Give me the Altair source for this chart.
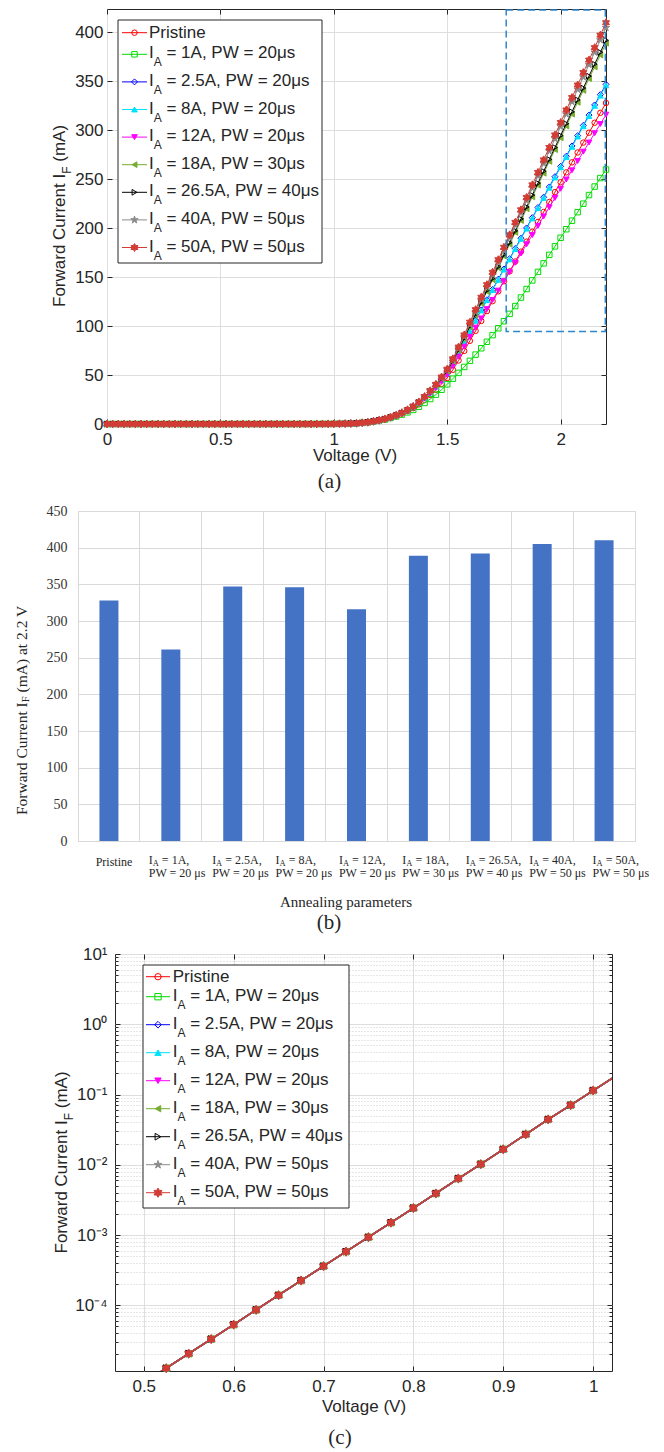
import altair as alt
import pandas as pd

# ------------------------------------------------------------------ data
IA_LABELS = ["1A", "2.5A", "8A", "12A", "18A", "26.5A", "40A", "50A"]
PW_LABELS = ["20", "20", "20", "20", "30", "40", "50", "50"]
SERIES = ["Pristine"] + ["I_A = " + a for a in IA_LABELS]

# voltage grid of the forward-current sweep (V) and read currents (mA)
ZERO_V = [0.0, 0.025, 0.05, 0.075, 0.1, 0.125, 0.15, 0.175, 0.2, 0.225, 0.25,
          0.275, 0.3, 0.325, 0.35, 0.375, 0.4, 0.425, 0.45, 0.475, 0.5]
ZERO_I = [0.0, 0.0, 0.0, 0.0, 0.0, 0.0, 0.0, 0.0, 0.0, 0.0, 0.0,
          0.0, 0.0, 0.0, 0.0, 0.0, 0.0, 0.0, 0.0, 0.0, 0.0]
SUB_V = [0.525, 0.55, 0.575, 0.6, 0.625, 0.65, 0.675, 0.7, 0.725, 0.75,
         0.775, 0.8, 0.825, 0.85, 0.875, 0.9, 0.925, 0.95, 0.975, 1.0]
SUB_I = [1.27e-5, 2.05e-5, 3.3e-5, 5.3e-5, 8.6e-5, 1.39e-4, 2.25e-4, 3.6e-4,
         5.8e-4, 9.3e-4, 1.5e-3, 2.42e-3, 3.9e-3, 6.37e-3, 1.02e-2, 1.66e-2,
         2.71e-2, 4.42e-2, 7.05e-2, 0.114]
KNEE_V = [1.025, 1.05, 1.075, 1.1, 1.125, 1.15, 1.175, 1.2]
KNEE_I = [0.18, 0.29, 0.47, 0.75, 1.2, 1.8, 2.7, 3.8]
HIGH_V = [1.225, 1.25, 1.275, 1.3, 1.325, 1.35, 1.375, 1.4, 1.425, 1.45,
          1.475, 1.5, 1.525, 1.55, 1.575, 1.6, 1.625, 1.65, 1.675, 1.7,
          1.725, 1.75, 1.775, 1.8, 1.825, 1.85, 1.875, 1.9, 1.925, 1.95,
          1.975, 2.0, 2.025, 2.05, 2.075, 2.1, 2.125, 2.15, 2.175, 2.2]
HIGH_I = {
    "Pristine": [4.95, 6.59, 8.39, 10.61, 13.22, 16.24, 20.08, 24.71, 29.68, 34.97,
                 40.9, 47.0, 55.4, 64.9, 74.7, 85.0, 95.1, 105.3, 115.4, 125.5,
                 135.6, 145.8, 155.9, 166.0, 176.1, 186.3, 196.4, 206.5, 216.6, 226.8,
                 236.9, 247.0, 257.1, 267.3, 277.4, 287.5, 297.6, 307.8, 317.9, 328.0],
    "I_A = 1A": [4.6, 6.1, 7.7, 9.6, 11.9, 14.4, 17.7, 21.5, 25.5, 30.0,
                 35.0, 40.5, 46.3, 52.2, 58.3, 64.5, 70.9, 77.4, 84.0, 90.8,
                 97.8, 105.0, 112.5, 120.5, 129.2, 137.9, 146.7, 155.4, 164.1, 172.8,
                 181.5, 190.3, 199.0, 207.7, 216.4, 225.1, 233.9, 242.6, 251.3, 260.0],
    "I_A = 2.5A": [5.1, 6.84, 8.76, 11.16, 14.0, 17.31, 21.56, 26.72, 32.32, 38.35,
                   45.24, 52.5, 62.8, 73.4, 84.3, 95.5, 106.0, 116.5, 126.9, 137.4,
                   147.9, 158.4, 168.9, 179.3, 189.8, 200.3, 210.8, 221.2, 231.7, 242.2,
                   252.7, 263.2, 273.6, 284.1, 294.6, 305.1, 315.6, 326.0, 336.5, 347.0],
    "I_A = 8A": [5.09, 6.82, 8.73, 11.11, 13.93, 17.22, 21.42, 26.54, 32.08, 38.04,
                 44.85, 52.0, 62.4, 73.0, 83.9, 95.0, 105.5, 115.9, 126.4, 136.8,
                 147.3, 157.8, 168.2, 178.7, 189.1, 199.6, 210.0, 220.5, 231.0, 241.4,
                 251.9, 262.3, 272.8, 283.2, 293.7, 304.2, 314.6, 325.1, 335.5, 346.0],
    "I_A = 12A": [5.03, 6.73, 8.6, 10.91, 13.65, 16.82, 20.88, 25.81, 31.12, 36.81,
                  43.27, 50.0, 59.2, 69.0, 79.0, 89.0, 98.5, 107.9, 117.4, 126.8,
                  136.3, 145.8, 155.2, 164.7, 174.1, 183.6, 193.0, 202.5, 212.0, 221.4,
                  230.9, 240.3, 249.8, 259.2, 268.7, 278.2, 287.6, 297.1, 306.5, 316.0],
    "I_A = 18A": [5.14, 6.91, 8.87, 11.3, 14.22, 17.61, 21.96, 27.27, 33.04, 39.27,
                  46.42, 54.0, 64.0, 75.0, 86.8, 99.0, 111.1, 123.2, 135.3, 147.3,
                  159.4, 171.5, 183.6, 195.7, 207.8, 219.8, 231.9, 244.0, 256.1, 268.2,
                  280.3, 292.3, 304.4, 316.5, 328.6, 340.7, 352.8, 364.8, 376.9, 389.0],
    "I_A = 26.5A": [5.16, 6.93, 8.9, 11.35, 14.29, 17.71, 22.1, 27.45, 33.28, 39.58,
                    46.82, 54.5, 64.6, 75.8, 87.7, 100.0, 112.2, 124.3, 136.5, 148.7,
                    160.8, 173.0, 185.2, 197.3, 209.5, 221.7, 233.8, 246.0, 258.2, 270.3,
                    282.5, 294.7, 306.8, 319.0, 331.2, 343.3, 355.5, 367.7, 379.8, 392.0],
    "I_A = 40A": [5.19, 6.98, 8.97, 11.45, 14.43, 17.9, 22.37, 27.82, 33.76, 40.19,
                  47.61, 55.5, 65.9, 77.4, 89.4, 102.0, 114.6, 127.3, 139.9, 152.5,
                  165.1, 177.8, 190.4, 203.0, 215.6, 228.3, 240.9, 253.5, 266.1, 278.8,
                  291.4, 304.0, 316.6, 329.3, 341.9, 354.5, 367.1, 379.8, 392.4, 405.0],
    "I_A = 50A": [5.2, 7.0, 9.0, 11.5, 14.5, 18.0, 22.5, 28.0, 34.0, 40.5,
                  48.0, 56.0, 66.6, 78.6, 91.0, 104.0, 116.8, 129.5, 142.3, 155.0,
                  167.8, 180.5, 193.3, 206.0, 218.8, 231.5, 244.3, 257.0, 269.8, 282.5,
                  295.3, 308.0, 320.8, 333.5, 346.3, 359.0, 371.8, 384.5, 397.3, 410.0],
}
# log panel: the line runs on past the first and last markers to the frame
LINE_EDGE_V = [0.5, 1.025]
LINE_EDGE_I = [7.9e-6, 0.183]

ZOOM_BOX_V = [1.76, 2.197]
ZOOM_BOX_I = [94.4, 423.0]

BAR_CATEGORIES = ["Pristine"] + [f"{a} / {p}" for a, p in zip(IA_LABELS, PW_LABELS)]
BAR_VALUES = [328, 261, 347, 346, 316, 389, 392, 405, 410]

A_X_TICKS = [0, 0.5, 1, 1.5, 2]
A_Y_TICKS = [0, 50, 100, 150, 200, 250, 300, 350, 400]
B_Y_TICKS = [0, 50, 100, 150, 200, 250, 300, 350, 400, 450]
C_X_TICKS = [0.5, 0.6, 0.7, 0.8, 0.9, 1.0]
C_Y_TICKS = [1e-4, 1e-3, 1e-2, 1e-1, 1, 10]
C_Y_LABELS = ["10⁻⁴", "10⁻³", "10⁻²", "10⁻¹", "10⁰", "10¹"]
C_Y_MINOR = [m * 10.0 ** k for k in range(-5, 1) for m in range(2, 10)]

# ------------------------------------------------------------------ style
SANS = "Liberation Sans"
SERIF = "Liberation Serif"
INK = "#262626"
GRID = "#dedede"
PENTAGRAM = ("M0,-1L0.225,-0.309L0.951,-0.309L0.363,0.118L0.588,0.809L0,0.382"
             "L-0.588,0.809L-0.363,0.118L-0.951,-0.309L-0.225,-0.309Z")
HEXAGRAM = ("M0,-1L0.289,-0.5L0.866,-0.5L0.577,0L0.866,0.5L0.289,0.5L0,1"
            "L-0.289,0.5L-0.866,0.5L-0.577,0L-0.866,-0.5L-0.289,-0.5Z")
COLORS = ["#FF0000", "#00DD00", "#0000FF", "#00E1FF", "#FF00FF", "#77AC30",
          "#000000", "#8C8C8C", "#D23C35"]
FILLS = ["transparent", "transparent", "transparent", "#00E1FF", "#FF00FF",
         "#77AC30", "transparent", "#8C8C8C", "#D23C35"]
SHAPES = ["circle", "square", "diamond", "triangle-up", "triangle-down",
          "triangle-left", "triangle-right", PENTAGRAM, HEXAGRAM]
SIZES_A = [30, 30, 36, 32, 32, 32, 32, 60, 64]
SIZES_C = [40, 40, 45, 40, 40, 40, 45, 70, 85]

ARIAL = {' ': 278, '=': 584, '.': 278, ',': 278, 'A': 667, 'I': 278, 'P': 667,
         'W': 944, 'μ': 576, 's': 500, 'r': 333, 'i': 222, 't': 278, 'n': 556,
         'e': 556, '(': 333, ')': 333, 'm': 833, 'V': 667, 'o': 556, 'l': 222,
         'a': 556, 'g': 556, 'F': 611, 'w': 722, 'd': 556, 'C': 722, 'u': 556}
TIMES = {' ': 250, '(': 333, ')': 333, ',': 250, '.': 250, '=': 564, 'A': 722,
         'I': 333, 'P': 556, 'W': 944, 'V': 722, 'μ': 576, 's': 389, 'm': 778,
         't': 278, 'a': 444, 'r': 333, 'i': 278, 'n': 500, 'e': 444, 'l': 278,
         'g': 500, 'p': 500, 'F': 556, 'o': 500, 'w': 722, 'd': 500, 'C': 667,
         'u': 500}


def tw(s, table, fs):
    digit = 556 if table is ARIAL else 500
    return sum(table.get(c, digit) for c in s) * fs / 1000.0


def major_axis(orient, values, pad, fmt=None, expr=None):
    kw = dict(orient=orient, values=values, grid=True, gridColor=GRID, gridWidth=1,
              ticks=False, domain=False, labelFont=SANS, labelFontSize=17,
              labelColor=INK, labelPadding=pad, labelFlush=False, title=None)
    if fmt is not None:
        kw["format"] = fmt
    if expr is not None:
        kw["labelExpr"] = expr
    return alt.Axis(**kw)


def tick_axis(orient, values, size=5):
    return alt.Axis(orient=orient, values=values, grid=False, ticks=True,
                    tickSize=size, tickColor=INK, tickWidth=1, domain=False,
                    labels=False, title=None, offset=-size)


def minor_grid_axis(orient, values):
    return alt.Axis(orient=orient, values=values, grid=True, gridColor="#cfcfcf",
                    gridDash=[1, 2], gridWidth=1, ticks=False, labels=False,
                    domain=False, title=None)


def rot_title(x, y0, main, sub, rest, fs, fs_sub, dx_sub, table):
    w1 = tw(main, table, fs)
    w2 = tw(sub, table, fs_sub)
    wsp = tw(" ", table, fs)
    return [dict(px=x, py=y0, txt=main, fs=fs, ang=270),
            dict(px=x + dx_sub, py=y0 - w1, txt=sub, fs=fs_sub, ang=270),
            dict(px=x, py=y0 - w1 - w2 - wsp, txt=rest, fs=fs, ang=270)]


def legend_layers(box_x, box_y, rows, line_x, text_x, sizes):
    box = pd.DataFrame({"x1": [box_x[0]], "x2": [box_x[1]], "y1": [box_y[0]], "y2": [box_y[1]]})
    lay = [alt.Chart(box).mark_rect(fill="white", stroke=INK, strokeWidth=1).encode(
        x=alt.X("x1:Q", scale=None, axis=None), x2="x2:Q",
        y=alt.Y("y1:Q", scale=None, axis=None), y2="y2:Q")]
    n = len(SERIES)
    ldf = pd.DataFrame({"x1": [line_x[0]] * n, "x2": [line_x[1]] * n, "y": rows, "col": COLORS})
    lay.append(alt.Chart(ldf).mark_rule(strokeWidth=1).encode(
        x=alt.X("x1:Q", scale=None, axis=None), x2="x2:Q",
        y=alt.Y("y:Q", scale=None, axis=None), color=alt.Color("col:N", scale=None)))
    pdf = pd.DataFrame({"x": [(line_x[0] + line_x[1]) / 2] * n, "y": rows, "col": COLORS,
                        "fillc": FILLS, "shp": SHAPES, "sz": sizes})
    lay.append(alt.Chart(pdf).mark_point(filled=True, strokeWidth=1, opacity=1).encode(
        x=alt.X("x:Q", scale=None, axis=None), y=alt.Y("y:Q", scale=None, axis=None),
        shape=alt.Shape("shp:N", scale=None), stroke=alt.Stroke("col:N", scale=None),
        fill=alt.Fill("fillc:N", scale=None), size=alt.Size("sz:Q", scale=None)))
    texts = []
    wI = tw("I", ARIAL, 17)
    wA = tw("A", ARIAL, 12)
    wsp = tw(" ", ARIAL, 17)
    for j in range(n):
        y = rows[j]
        if j == 0:
            texts.append(dict(px=text_x, py=y, txt="Pristine", fs=17, ang=0))
        else:
            texts.append(dict(px=text_x, py=y - 1, txt="I", fs=17, ang=0))
            texts.append(dict(px=text_x + wI, py=y + 8, txt="A", fs=12, ang=0))
            texts.append(dict(px=text_x + wI + wA + wsp, py=y - 1,
                              txt=f"= {IA_LABELS[j-1]}, PW = {PW_LABELS[j-1]}μs", fs=17, ang=0))
    return lay, texts


def text_layer(rows, font, align):
    df = pd.DataFrame(rows)
    return alt.Chart(df).mark_text(align=align, baseline="middle", font=font, color=INK).encode(
        x=alt.X("px:Q", scale=None, axis=None), y=alt.Y("py:Q", scale=None, axis=None),
        text="txt:N", size=alt.Size("fs:Q", scale=None), angle=alt.Angle("ang:Q", scale=None))


# ------------------------------------------------------------------ panel (a)
WA, HA = 499, 415
xA = alt.Scale(domain=[0, 2.2], nice=False, zero=False)
yA = alt.Scale(domain=[0, 424], nice=False, zero=False)
planA = {
    ("line", 0): (major_axis("bottom", A_X_TICKS, 7, fmt="~g"), major_axis("left", A_Y_TICKS, 4)),
    ("pts", 0): (tick_axis("bottom", A_X_TICKS), tick_axis("left", A_Y_TICKS)),
}
layersA = []
for j, name in enumerate(SERIES):
    df = pd.DataFrame({"V": ZERO_V + SUB_V + KNEE_V + HIGH_V,
                       "I": ZERO_I + SUB_I + KNEE_I + HIGH_I[name]})
    lx, ly = planA.get(("line", j), (None, None))
    qx, qy = planA.get(("pts", j), (None, None))
    layersA.append(alt.Chart(df).mark_line(color=COLORS[j], strokeWidth=1, clip=True).encode(
        x=alt.X("V:Q", scale=xA, axis=lx), y=alt.Y("I:Q", scale=yA, axis=ly)))
    layersA.append(alt.Chart(df).mark_point(shape=SHAPES[j], size=SIZES_A[j], filled=True,
                                            fill=FILLS[j], stroke=COLORS[j], strokeWidth=1,
                                            opacity=1).encode(
        x=alt.X("V:Q", scale=xA, axis=qx), y=alt.Y("I:Q", scale=yA, axis=qy)))
boxA = pd.DataFrame({"v1": [ZOOM_BOX_V[0]], "v2": [ZOOM_BOX_V[1]],
                     "i1": [ZOOM_BOX_I[0]], "i2": [ZOOM_BOX_I[1]]})
layersA.append(alt.Chart(boxA).mark_rect(fill="transparent", stroke="#2F86CC", strokeWidth=1.5,
                                         strokeDash=[7, 4]).encode(
    x=alt.X("v1:Q", scale=xA, axis=tick_axis("top", A_X_TICKS)), x2="v2:Q",
    y=alt.Y("i1:Q", scale=yA, axis=tick_axis("right", A_Y_TICKS)), y2="i2:Q"))
rowsA = [23.7] + [45.3 + 27.6 * i for i in range(8)]
legA, legA_text = legend_layers((11, 215), (11, 254), rowsA, (15, 40), 42, SIZES_A)
layersA += legA
layersA.append(text_layer(legA_text + rot_title(-47, 298, "Forward Current I", "F", "(mA)",
                                                17, 12, 7, ARIAL), SANS, "left"))
layersA.append(text_layer([dict(px=248, py=447, txt="Voltage (V)", fs=17, ang=0)], SANS, "center"))
layersA.append(text_layer([dict(px=222.5, py=473, txt="(a)", fs=21, ang=0)], SERIF, "center"))
chartA = alt.layer(*layersA).resolve_axis(x="independent", y="independent").properties(
    width=WA, height=HA, view=alt.ViewBackground(stroke=INK, strokeWidth=1))

# ------------------------------------------------------------------ panel (b)
WB, HB = 557, 330
LFS = 12
dfB = pd.DataFrame({"cat": BAR_CATEGORIES, "val": BAR_VALUES})
bars = alt.Chart(dfB).mark_bar(size=19, color="#4472C4").encode(
    x=alt.X("cat:N", sort=BAR_CATEGORIES,
            scale=alt.Scale(domain=BAR_CATEGORIES, paddingInner=0, paddingOuter=0),
            axis=alt.Axis(labels=False, ticks=False, domain=False, grid=True,
                          gridColor="#d9d9d9", bandPosition=0, title=None)),
    y=alt.Y("val:Q", scale=alt.Scale(domain=[0, 450], nice=False),
            axis=alt.Axis(values=B_Y_TICKS, grid=True, gridColor="#d9d9d9", ticks=False,
                          domain=False, labelFont=SERIF, labelFontSize=14,
                          labelColor="#333333", labelPadding=11, title=None)))
textsB = []
for k in range(len(BAR_CATEGORIES)):
    cx = 36 + 63.4 * k
    if k == 0:
        w = tw("Pristine", TIMES, LFS)
        textsB.append(dict(px=cx - w / 2, py=351, txt="Pristine", fs=LFS, ang=0))
    else:
        a, p = IA_LABELS[k - 1], PW_LABELS[k - 1]
        rest1 = f"= {a},"
        line2 = f"PW = {p} μs"
        wI = tw("I", TIMES, LFS)
        wA = tw("A", TIMES, 8.5)
        wsp = tw(" ", TIMES, LFS)
        w1 = wI + wA + wsp + tw(rest1, TIMES, LFS)
        w2 = tw(line2, TIMES, LFS)
        left = cx - max(w1, w2) / 2
        textsB += [dict(px=left, py=349, txt="I", fs=LFS, ang=0),
                   dict(px=left + wI, py=352, txt="A", fs=8.5, ang=0),
                   dict(px=left + wI + wA + wsp, py=349, txt=rest1, fs=LFS, ang=0),
                   dict(px=left, py=361.5, txt=line2, fs=LFS, ang=0)]
textsB += rot_title(-56, 304, "Forward Current I", "F", "(mA) at 2.2 V", 15.5, 10.5, 3.5, TIMES)
chartB = alt.layer(
    bars,
    text_layer(textsB, SERIF, "left"),
    text_layer([dict(px=268, py=391, txt="Annealing parameters", fs=15, ang=0),
                dict(px=251, py=412, txt="(b)", fs=21, ang=0)], SERIF, "center"),
).properties(width=WB, height=HB, view=alt.ViewBackground(stroke="#d9d9d9", strokeWidth=1))

# ------------------------------------------------------------------ panel (c)
WC, HC = 497, 417
xC = alt.Scale(domain=[0.468, 1.021], nice=False, zero=False)
yC = alt.Scale(type="log", domain=[1.16e-5, 10], nice=False)
expr = "".join(f"datum.value < {t * 5:g} ? '{lab}' : " for t, lab in zip(C_Y_TICKS[:-1], C_Y_LABELS[:-1]))
expr += f"'{C_Y_LABELS[-1]}'"
planC = {
    ("line", 0): (major_axis("bottom", C_X_TICKS, 7, fmt="~g"),
                  major_axis("left", C_Y_TICKS, 8, expr=expr)),
    ("pts", 0): (tick_axis("bottom", C_X_TICKS), tick_axis("left", C_Y_TICKS)),
    ("line", 1): (tick_axis("top", C_X_TICKS), tick_axis("right", C_Y_TICKS)),
    ("pts", 1): (None, minor_grid_axis("left", C_Y_MINOR)),
    ("line", 2): (None, tick_axis("left", C_Y_MINOR, 3)),
    ("pts", 2): (None, tick_axis("right", C_Y_MINOR, 3)),
}
layersC = []
for j, name in enumerate(SERIES):
    dl = pd.DataFrame({"V": [LINE_EDGE_V[0]] + SUB_V + [LINE_EDGE_V[1]],
                       "I": [LINE_EDGE_I[0]] + SUB_I + [LINE_EDGE_I[1]]})
    dp = pd.DataFrame({"V": SUB_V, "I": SUB_I})
    lx, ly = planC.get(("line", j), (None, None))
    qx, qy = planC.get(("pts", j), (None, None))
    layersC.append(alt.Chart(dl).mark_line(color=COLORS[j], strokeWidth=1.5, clip=True).encode(
        x=alt.X("V:Q", scale=xC, axis=lx), y=alt.Y("I:Q", scale=yC, axis=ly)))
    layersC.append(alt.Chart(dp).mark_point(shape=SHAPES[j], size=SIZES_C[j], filled=True,
                                            fill=FILLS[j], stroke=COLORS[j], strokeWidth=1,
                                            opacity=1).encode(
        x=alt.X("V:Q", scale=xC, axis=qx), y=alt.Y("I:Q", scale=yC, axis=qy)))
rowsC = [22.7] + [42.7 + 28 * i for i in range(8)]
legC, legC_text = legend_layers((28, 234), (11, 254), rowsC, (31, 55), 57.7, SIZES_C)
layersC += legC
layersC.append(text_layer(legC_text + rot_title(-53, 299.5, "Forward Current I", "F", "(mA)",
                                                17, 12, 7, ARIAL), SANS, "left"))
layersC.append(text_layer([dict(px=249, py=453, txt="Voltage (V)", fs=17, ang=0)], SANS, "center"))
layersC.append(text_layer([dict(px=225, py=484, txt="(c)", fs=21, ang=0)], SERIF, "center"))
chartC = alt.layer(*layersC).resolve_axis(x="independent", y="independent").properties(
    width=WC, height=HC, view=alt.ViewBackground(stroke=INK, strokeWidth=1))


# ------------------------------------------------------------------ layout
def spacer(w):
    return alt.Chart(pd.DataFrame({"v": [0]})).mark_point(opacity=0).encode(
        x=alt.X("v:Q", axis=None), y=alt.Y("v:Q", axis=None)).properties(width=w, height=4)


rowA = alt.hconcat(spacer(29), chartA, spacing=0, bounds="flush")
rowC = alt.hconcat(spacer(37), chartC, spacing=0, bounds="flush")
chart = alt.vconcat(rowA, chartB, rowC, spacing=10).properties(
    padding={"left": 6, "top": 0, "right": 2, "bottom": 0}
).configure(font=SANS).configure_view(stroke=None)

chart.save("out.html", embed_options={"renderer": "svg", "actions": False})
